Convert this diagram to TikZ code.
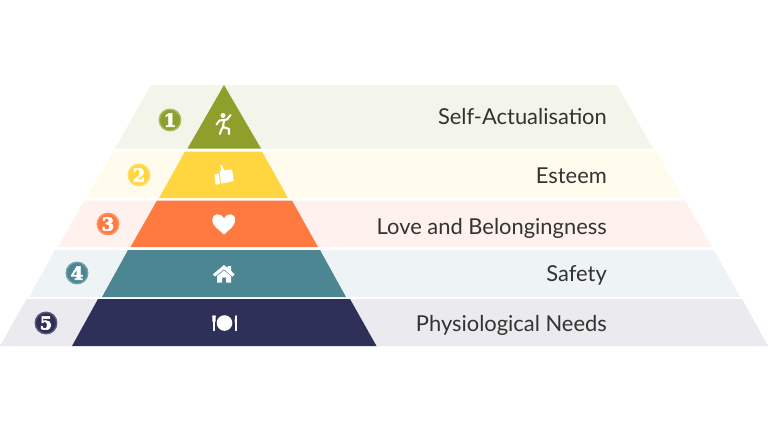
\documentclass[tikz,border=0pt]{standalone}
\usepackage{fontspec}
\setmainfont{Lato}
\newfontfamily\numfont[FakeBold=3.5]{DejaVu Serif Bold}
\definecolor{cOlive}{HTML}{8EA02B}
\definecolor{cYellow}{HTML}{FFD63F}
\definecolor{cOrange}{HTML}{FF7A41}
\definecolor{cTeal}{HTML}{4C8692}
\definecolor{cNavy}{HTML}{2F3059}
\definecolor{lOlive}{HTML}{F3F5EB}
\definecolor{lYellow}{HTML}{FFFCEE}
\definecolor{lOrange}{HTML}{FFF1ED}
\definecolor{lTeal}{HTML}{EEF4F5}
\definecolor{lNavy}{HTML}{EBEAEF}
\definecolor{txt}{HTML}{33332F}
\tikzset{
  lab/.style={anchor=east,text=txt,font=\fontsize{21.9}{26}\selectfont,inner sep=0pt,text height=16pt,text depth=4.5pt},
  numb/.style={circle,minimum size=21.5pt,inner sep=0pt,text=white,line width=1.4pt,font=\numfont\fontsize{18}{18}\selectfont},
  limb/.style={draw=white,line width=2.1pt,line cap=round,line join=round}
}
\begin{document}
\begin{tikzpicture}[x=1pt,y=-1pt]
\useasboundingbox (0,0) rectangle (768,432);
% pale bands
\fill[lOlive] (151,85) -- (617,85) -- (653,148.5) -- (115,148.5) -- cycle;
\fill[lYellow] (113,151.5) -- (657,151.5) -- (683,198) -- (86,198) -- cycle;
\fill[lOrange] (84,200.5) -- (685,200.5) -- (712,247) -- (58,247) -- cycle;
\fill[lTeal] (55,250) -- (714,250) -- (740,297) -- (29,297) -- cycle;
\fill[lNavy] (26.5,299) -- (742,299) -- (768,346) -- (0,346) -- cycle;
% pyramid
\fill[cOlive] (224,85) -- (261,148.5) -- (187.5,148.5) -- cycle;
\fill[cYellow] (185,151.5) -- (262,151.5) -- (288,198) -- (159,198) -- cycle;
\fill[cOrange] (157,200.5) -- (292,200.5) -- (318,247) -- (130.5,247) -- cycle;
\fill[cTeal] (128,250) -- (320,250) -- (346,297) -- (102,297) -- cycle;
\fill[cNavy] (98,299) -- (350,299) -- (376.5,346) -- (72,346) -- cycle;
% labels
\node[lab] (l1) at (607,118.5) {Self-Actualisation};
\node[lab] (l2) at (607,177.5) {Esteem};
\node[lab] (l3) at (607,228.5) {Love and Belongingness};
\node[lab] (l4) at (607,275.5) {Safety};
\node[lab] (l5) at (607,325.5) {Physiological Needs};
% numbers
\node[numb,fill=cOlive,draw=cOlive!75] (n1) at (170,120) {1};
\node[numb,fill=cYellow,draw=cYellow!80] (n2) at (139,175) {2};
\node[numb,fill=cOrange,draw=cOrange!80] (n3) at (108,224) {3};
\node[numb,fill=cTeal,draw=cTeal!80] (n4) at (77,273) {4};
\node[numb,fill=cNavy,draw=cNavy!80] (n5) at (46,323) {5};
% runner
\fill[white] (223,115.5) circle (2.5);
\draw[limb] (224,120) -- (223,127) -- (229,129) -- (229,134);
\draw[limb] (223,127) -- (221,130.5) -- (220,134);
\draw[limb] (224,120) -- (219.5,120.5) -- (216.5,124.5);
\draw[limb] (224,120) -- (227,119.5) -- (230.5,115);
% thumb up
\fill[white] (214.5,174.5) -- (219,173.5) -- (220,184) -- (215.5,184.7) -- cycle;
\fill[white,rounded corners=0.8pt] (220,173) -- (221,168) -- (219.8,164.8) -- (222,165.2) -- (224.5,170.5) -- (232,169.3) -- (233.7,181) -- (221,183.7) -- cycle;
% heart
\fill[white] (224,234.5) .. controls (218,229) and (212.3,225.5) .. (212.3,220.5)
  .. controls (212.3,212.5) and (221,212.5) .. (224,218.5)
  .. controls (227,212.5) and (235.2,212.5) .. (235.2,220.5)
  .. controls (235.2,225.5) and (230,229) .. (224,234.5) -- cycle;
% house
\fill[white] (212.7,274.5) -- (224,265) -- (227.5,267.8) -- (227.5,266) -- (231,266) -- (231,270.6) -- (234.5,274.5) -- (232.5,276.5) -- (224,269.3) -- (215,276.5) -- cycle;
\fill[white] (217,276) -- (224,270.5) -- (231,276) -- (231,282.7) -- (226,282.7) -- (226,277.5) -- (222,277.5) -- (222,282.7) -- (217,282.7) -- cycle;
% plate and cutlery
\fill[white] (224.5,323) circle (7.8);
\draw[white,line width=1.3pt,line cap=round] (214,316) -- (214,330.5);
\fill[white] (212.2,315.5) -- (215.8,315.5) -- (215.5,321.5) -- (212.5,321.5) -- cycle;
\draw[white,line width=1.3pt,line cap=round] (236,316) -- (236,330.5);
\fill[white] (236,315.5) .. controls (234.3,319) and (234.3,322) .. (235.2,324) -- (236.6,324) -- (236.6,315.5) -- cycle;
\end{tikzpicture}
\end{document}
